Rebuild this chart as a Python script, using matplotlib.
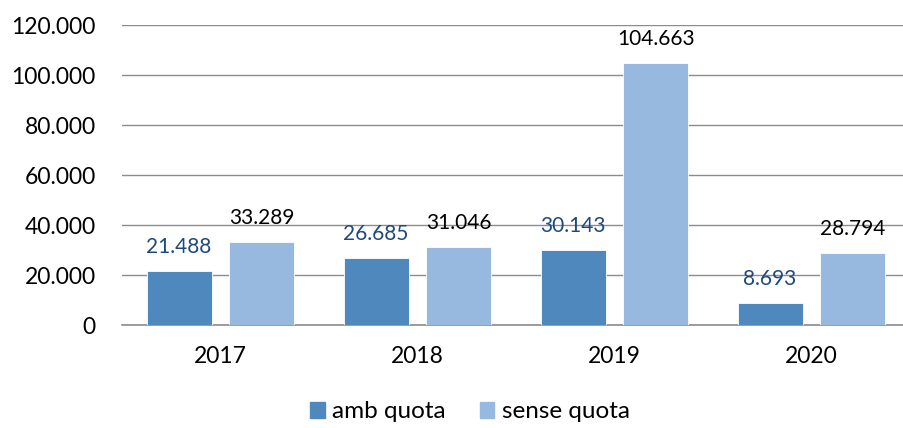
import matplotlib.pyplot as plt
import numpy as np
from matplotlib.ticker import FuncFormatter
from matplotlib.patches import Patch

plt.rcParams['font.family'] = ['Lato', 'DejaVu Sans']

years = ['2017', '2018', '2019', '2020']
amb_quota = [21488, 26685, 30143, 8693]
sense_quota = [33289, 31046, 104663, 28794]

dark = '#4F88BD'
light = '#97B9DF'
label_dark = '#1F497D'

fig = plt.figure(figsize=(9.04, 4.28), dpi=100)
ax = fig.add_axes([122 / 904, 1 - 325 / 428, (904 - 122) / 904, 300 / 428])

x = np.arange(len(years))
w = 0.33
b1 = ax.bar(x - 0.21, amb_quota, w, color=dark, edgecolor='white', linewidth=0.6, zorder=3)
b2 = ax.bar(x + 0.21, sense_quota, w, color=light, edgecolor='white', linewidth=0.6, zorder=3)

def fmt(v):
    return f"{v:,.0f}".replace(',', '.')

for rect, v in zip(b1, amb_quota):
    ax.annotate(fmt(v), (rect.get_x() + rect.get_width() / 2, v), xytext=(0, 13),
                textcoords='offset points', ha='center', va='baseline',
                fontsize=15, color=label_dark)
for rect, v in zip(b2, sense_quota):
    ax.annotate(fmt(v), (rect.get_x() + rect.get_width() / 2, v), xytext=(0, 13),
                textcoords='offset points', ha='center', va='baseline',
                fontsize=15, color='black')

ax.set_ylim(0, 120000)
ax.set_yticks(np.arange(0, 120001, 20000))
ax.yaxis.set_major_formatter(FuncFormatter(lambda v, p: fmt(v)))
ax.set_xlim(-0.5, 3.47)
ax.set_xticks(x)
ax.set_xticklabels(years)
ax.tick_params(axis='both', length=0, labelsize=16.5)
ax.tick_params(axis='y', pad=19)
ax.tick_params(axis='x', pad=15)

ax.grid(axis='y', color='#8C8C8C', linewidth=1, zorder=0)
for s in ['top', 'right', 'left']:
    ax.spines[s].set_visible(False)
ax.spines['bottom'].set_color('#8C8C8C')
ax.spines['bottom'].set_linewidth(1.2)

handles = [Patch(color=dark, label='amb quota'), Patch(color=light, label='sense quota')]
fig.legend(handles=handles, loc='center', bbox_to_anchor=(470 / 904, 1 - 412 / 428),
           ncol=2, frameon=False, fontsize=17.5, handlelength=0.6, handleheight=0.6,
           handletextpad=0.3, columnspacing=1.4)

fig.savefig('out.png', dpi=100)
